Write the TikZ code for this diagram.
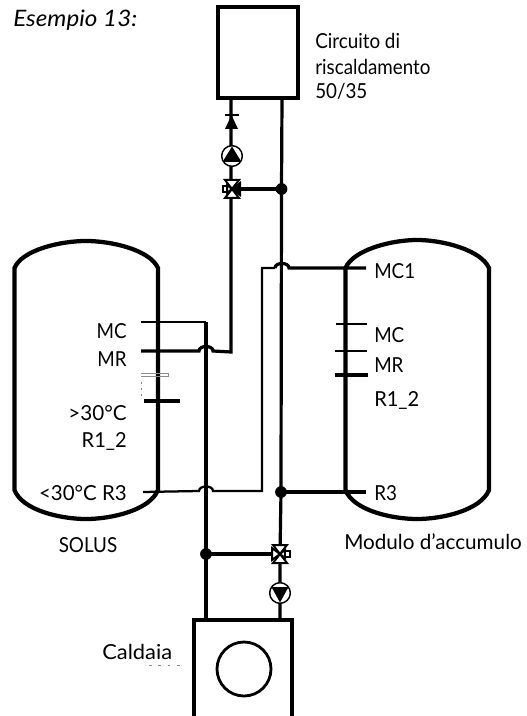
\documentclass[tikz,border=0pt]{standalone}
\usepackage{fontspec}
\setmainfont{Lato}
\newcommand{\nx}[2][0.91]{\scalebox{#1}[1]{#2}}
\tikzset{
  x=0.75pt,y=-0.75pt,
  pipe/.style={line width=2.4pt},
  heavypipe/.style={line width=2.9pt},
  thinpipe/.style={line width=1.7pt},
  tank/.style={line width=3.2pt},
  lbl/.style={font=\fontsize{15.5}{18}\selectfont,inner sep=0pt,anchor=base west},
  lblr/.style={font=\fontsize{15.5}{18}\selectfont,inner sep=0pt,anchor=base east},
  dot/.style={circle,fill=black,inner sep=0pt,minimum size=8.8pt},
  pumpc/.style={circle,draw,fill=white,line width=1.1pt,inner sep=0pt,minimum size=15.5pt},
  valvetri/.style={draw,line width=1.5pt,line join=miter},
  artefact/.style={line width=0.4pt,black!45},
}
\begin{document}
\begin{tikzpicture}
\useasboundingbox (0,0) rectangle (526,716);
% coordinates
\coordinate (topL) at (231,99);
\coordinate (topR) at (282,99);
\coordinate (valveT) at (232,189);
\coordinate (jT) at (281.5,189);
\coordinate (jR) at (281,492);
\coordinate (jL) at (206,554);
\coordinate (valveB) at (280,554);
\coordinate (botL) at (206,620);
\coordinate (botR) at (280,620);
% tanks
\draw[tank] (14.5,268) .. controls (22,250) and (60,241) .. (86,241) .. controls (112,241) and (150,250) .. (158,268)
  -- (158,490) .. controls (150,510) and (112,519) .. (86,519) .. controls (60,519) and (22,510) .. (14.5,490) -- cycle;
\draw[tank] (345.5,268) .. controls (353,250) and (391,240) .. (417,240) .. controls (443,240) and (481,250) .. (489,268)
  -- (489,490) .. controls (481,510) and (443,519) .. (417,519) .. controls (391,519) and (353,510) .. (345.5,490) -- cycle;
% heating circuit
\draw[line width=2.7pt] (218,7) rectangle (298,98) ;
% boiler
\draw[line width=2.5pt] (194,716) -- (194,620) -- (292,620) -- (292,716);
\node[circle,draw,line width=2.1pt,inner sep=0pt,minimum size=40.5pt] (burner) at (244,669) {};
% main pipes
\draw[pipe] (topL) -- (231,352) -- (213,351) .. controls (213,345) and (199,345) .. (199,351) -- (141,351);
\draw[pipe] (topR) -- (jT) -- (jR) -- (valveB) -- (botR);
\draw[heavypipe] (valveT) -- (jT);
\draw[pipe] (jL) -- (valveB);
\draw[thinpipe] (141,322) -- (206,322);
\draw[pipe] (206,322) -- (jL) -- (botL);
\draw[thinpipe] (143,492) -- (199,491) .. controls (199,485) and (213,485) .. (213,491) -- (262,491) -- (262,268) -- (275,268);
\draw[pipe] (275,268) .. controls (275,262) and (289,262) .. (289,268) -- (366,268);
\draw[heavypipe] (jR) -- (366,492);
% stubs
\draw[line width=2.6pt] (144,401) -- (180,401);
\draw[thinpipe] (336,324) -- (367,324);
\draw[thinpipe] (335,351) -- (367,351);
\draw[line width=2.8pt] (335,375) -- (368,375);
% junctions
\node[dot] (dT) at (jT) {};
\node[dot] (dR) at (jR) {};
\node[dot] (dL) at (jL) {};
% diode
\fill (231.5,115) -- (238,129) -- (225,129) -- cycle;
\draw[line width=1.5pt] (225,115) -- (239,115);
% top pump
\node[pumpc] (pumpT) at (232,156) {};
\fill (232,146.5) -- (241.5,162) -- (222.5,162) -- cycle;
% bottom pump
\node[pumpc] (pumpB) at (280,593) {};
\fill (280,602.5) -- (288.5,587) -- (271.5,587) -- cycle;
% top valve
\begin{scope}[shift={(valveT)}]
\draw[valvetri,fill=white] (0,0) -- (-7,-9) -- (7,-9) -- cycle;
\draw[valvetri,fill=white] (0,0) -- (-7,9) -- (7,9) -- cycle;
\draw[valvetri,fill=black] (0,0) -- (8,-6) -- (8,6) -- cycle;
\draw[valvetri,fill=white] (0,0) -- (-5,-4) -- (-5,4) -- cycle;
\draw[line width=1.1pt,fill=white] (-9,-3) rectangle (-5.5,3);
\end{scope}
% bottom valve
\begin{scope}[shift={(valveB)}]
\draw[valvetri,fill=white] (0,0) -- (-7,-9) -- (7,-9) -- cycle;
\draw[valvetri,fill=white] (0,0) -- (-7,9) -- (7,9) -- cycle;
\draw[valvetri,fill=white] (0,0) -- (-8,-6) -- (-8,6) -- cycle;
\draw[valvetri,fill=white] (0,0) -- (5,-4) -- (5,4) -- cycle;
\draw[line width=1.1pt,fill=white] (5.5,-3) rectangle (10,3);
\end{scope}
% artefacts
\draw[artefact] (141,373) -- (168,373) -- (168,376.5) -- (141,376.5);
\draw[artefact,dash pattern=on 1.5pt off 3pt] (141,382) -- (141,397);
\draw[artefact,dash pattern=on 2pt off 5pt] (149,665) -- (180,665);
% labels
\node[lbl] (tEx) at (13,27) {\fontsize{17}{20}\selectfont\itshape\scalebox{1.07}[1]{Esempio 13:}};
\node[lbl] (tC1) at (315,49) {\nx{Circuito di}};
\node[lbl] (tC2) at (315,75) {\nx{riscaldamento}};
\node[lbl] (tC3) at (315,99) {\nx{50/35}};
\node[lblr] (tMC) at (127,338) {\nx{MC}};
\node[lblr] (tMR) at (127,366) {\nx{MR}};
\node[lblr] (tG) at (127,420) {\nx[1.0]{>30°C}};
\node[lblr] (tR12) at (127,447) {\nx[0.97]{R1\_2}};
\node[lblr] (tR3) at (127,500) {\nx[0.99]{<30°C R3}};
\node[lbl] (uMC1) at (374,278) {\nx{MC1}};
\node[lbl] (uMC) at (374,342) {\nx{MC}};
\node[lbl] (uMR) at (374,372) {\nx{MR}};
\node[lbl] (uR12) at (374,406) {\nx[0.97]{R1\_2}};
\node[lbl] (uR3) at (374,500) {\nx{R3}};
\node[lbl,anchor=base] (tS) at (88,552) {\nx{SOLUS}};
\node[lbl] (tMod) at (344,549) {\nx[1.0]{Modulo d’accumulo}};
\node[lbl] (tCal) at (102,659) {\nx[1.06]{Caldaia}};
\end{tikzpicture}
\end{document}
